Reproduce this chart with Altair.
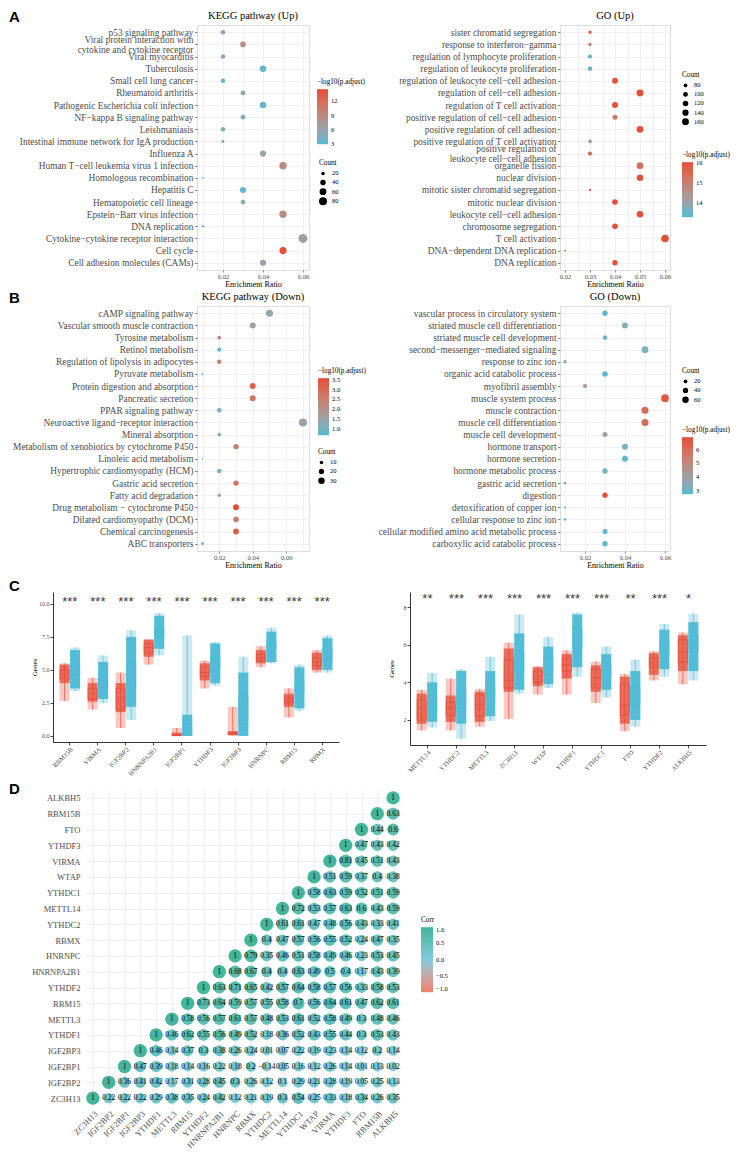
import altair as alt
import pandas as pd

SERIF = "Liberation Serif"
SANS = "Liberation Sans"
TXT = "#4D4D4D"
GRID = "#EBEBEB"
LOW = "#4DBBD5"
HIGH = "#E64B35"
NORMAL_C = "#E64B35"
TUMOR_C = "#4DBBD5"

# ---------------- A: KEGG pathway (Up) ----------------
kegg_up_terms = ["p53 signaling pathway",
                 "Viral protein interaction with\ncytokine and cytokine receptor",
                 "Viral myocarditis", "Tuberculosis", "Small cell lung cancer",
                 "Rheumatoid arthritis", "Pathogenic Escherichia coli infection",
                 "NF−kappa B signaling pathway", "Leishmaniasis",
                 "Intestinal immune network for IgA production", "Influenza A",
                 "Human T−cell leukemia virus 1 infection", "Homologous recombination",
                 "Hepatitis C", "Hematopoietic cell lineage", "Epstein−Barr virus infection",
                 "DNA replication", "Cytokine−cytokine receptor interaction", "Cell cycle",
                 "Cell adhesion molecules (CAMs)"]
kegg_up_ratio = [0.02, 0.03, 0.02, 0.04, 0.02, 0.03, 0.04, 0.03, 0.02, 0.02,
                 0.04, 0.05, 0.01, 0.03, 0.03, 0.05, 0.01, 0.06, 0.05, 0.04]
kegg_up_count = [31, 42, 28, 54, 28, 33, 54, 33, 28, 15, 50, 69, 9, 48, 33, 69, 12, 98, 64, 50]
kegg_up_logp = [5.2, 8.3, 5.0, 3.5, 3.2, 6.0, 3.5, 4.6, 4.0, 3.6,
                5.9, 8.7, 3.0, 3.3, 5.2, 8.7, 4.1, 6.3, 14.5, 5.8]

# ---------------- A: GO (Up) ----------------
go_up_terms = ["sister chromatid segregation", "response to interferon−gamma",
               "regulation of lymphocyte proliferation", "regulation of leukocyte proliferation",
               "regulation of leukocyte cell−cell adhesion", "regulation of cell−cell adhesion",
               "regulation of T cell activation", "positive regulation of cell−cell adhesion",
               "positive regulation of cell adhesion", "positive regulation of T cell activation",
               "positive regulation of\nleukocyte cell−cell adhesion", "organelle fission",
               "nuclear division", "mitotic sister chromatid segregation", "mitotic nuclear division",
               "leukocyte cell−cell adhesion", "chromosome segregation", "T cell activation",
               "DNA−dependent DNA replication", "DNA replication"]
go_up_ratio = [0.03, 0.03, 0.03, 0.03, 0.04, 0.05, 0.04, 0.04, 0.05, 0.03,
               0.03, 0.05, 0.05, 0.03, 0.04, 0.05, 0.04, 0.06, 0.02, 0.04]
go_up_count = [75, 75, 87, 93, 132, 165, 132, 108, 160, 80,
               87, 160, 149, 58, 122, 150, 122, 190, 52, 115]
go_up_logp = [15.7, 15.0, 13.4, 13.4, 16.0, 16.0, 16.0, 15.2, 16.0, 14.1,
              15.6, 15.3, 16.0, 15.7, 16.0, 16.0, 16.0, 16.0, 16.0, 16.0]

# ---------------- B: KEGG pathway (Down) ----------------
kegg_dn_terms = ["cAMP signaling pathway", "Vascular smooth muscle contraction",
                 "Tyrosine metabolism", "Retinol metabolism",
                 "Regulation of lipolysis in adipocytes", "Pyruvate metabolism",
                 "Protein digestion and absorption", "Pancreatic secretion",
                 "PPAR signaling pathway", "Neuroactive ligand−receptor interaction",
                 "Mineral absorption", "Metabolism of xenobiotics by cytochrome P450",
                 "Linoleic acid metabolism", "Hypertrophic cardiomyopathy (HCM)",
                 "Gastric acid secretion", "Fatty acid degradation",
                 "Drug metabolism − cytochrome P450", "Dilated cardiomyopathy (DCM)",
                 "Chemical carcinogenesis", "ABC transporters"]
kegg_dn_ratio = [0.05, 0.04, 0.02, 0.02, 0.02, 0.01, 0.04, 0.04, 0.02, 0.07,
                 0.02, 0.03, 0.01, 0.02, 0.03, 0.02, 0.03, 0.03, 0.03, 0.01]
kegg_dn_count = [36, 26, 11, 13, 15, 4, 26, 26, 15, 46, 11, 21, 3, 16, 21, 10, 26, 23, 26, 7]
kegg_dn_logp = [1.25, 1.6, 2.3, 0.75, 2.4, 0.7, 3.2, 2.8, 1.05, 1.4,
                1.05, 2.5, 0.9, 1.0, 2.75, 1.25, 3.55, 2.55, 3.2, 0.7]

# ---------------- B: GO (Down) ----------------
go_dn_terms = ["vascular process in circulatory system", "striated muscle cell differentiation",
               "striated muscle cell development", "second−messenger−mediated signaling",
               "response to zinc ion", "organic acid catabolic process", "myofibril assembly",
               "muscle system process", "muscle contraction", "muscle cell differentiation",
               "muscle cell development", "hormone transport", "hormone secretion",
               "hormone metabolic process", "gastric acid secretion", "digestion",
               "detoxification of copper ion", "cellular response to zinc ion",
               "cellular modified amino acid metabolic process", "carboxylic acid catabolic process"]
go_dn_ratio = [0.03, 0.04, 0.03, 0.05, 0.01, 0.03, 0.02, 0.06, 0.05, 0.05,
               0.03, 0.04, 0.04, 0.03, 0.01, 0.03, 0.01, 0.01, 0.03, 0.03]
go_dn_count = [40, 50, 31, 67, 17, 44, 24, 86, 72, 72, 36, 50, 50, 40, 11, 40, 5, 9, 36, 40]
go_dn_logp = [2.9, 3.5, 3.2, 3.3, 3.5, 2.9, 4.4, 6.6, 6.1, 6.0,
              4.2, 3.2, 2.95, 3.1, 3.5, 6.8, 2.9, 2.9, 2.9, 2.9]

# ---------------- C: expression boxes ----------------
c1_genes = ["RBM15B", "VIRMA", "IGF2BP2", "HNRNPA2B1", "IGF2BP1",
            "YTHDF3", "IGF2BP3", "HNRNPC", "RBM15", "RBMX"]
c1_sig = ["***"] * 10
# per group: lo, dense lo, q1, median, q3, dense hi, hi
c1_n_lo = [2.65, 2.0, 0.6, 5.4, 0.0, 3.6, 0.05, 5.2, 1.4, 4.8]
c1_n_dlo = [4.0, 2.6, 1.8, 6.0, 0.0, 4.2, 0.05, 5.5, 2.2, 5.0]
c1_n_q1 = [4.3, 2.8, 2.0, 6.3, 0.02, 4.5, 0.1, 5.7, 2.5, 5.3]
c1_n_med = [4.7, 3.2, 2.8, 6.7, 0.05, 4.8, 0.2, 5.9, 2.7, 5.6]
c1_n_q3 = [5.0, 3.6, 3.6, 7.0, 0.12, 5.2, 0.3, 6.2, 2.9, 5.9]
c1_n_dhi = [5.4, 4.0, 4.0, 7.3, 0.25, 5.5, 0.35, 6.5, 3.2, 6.3]
c1_n_hi = [5.5, 4.4, 4.8, 7.3, 0.6, 5.7, 2.2, 6.8, 3.6, 6.5]
c1_t_lo = [3.4, 2.5, 1.2, 6.1, 0.0, 3.8, 0.0, 5.5, 1.9, 4.8]
c1_t_dlo = [3.6, 2.8, 2.2, 6.6, 0.0, 4.0, 0.0, 5.6, 2.1, 5.0]
c1_t_q1 = [4.6, 3.6, 3.7, 7.5, 0.05, 5.0, 0.9, 6.5, 3.3, 5.8]
c1_t_med = [5.0, 4.1, 4.6, 7.9, 0.3, 5.5, 2.0, 6.8, 3.7, 6.2]
c1_t_q3 = [5.5, 4.5, 5.6, 8.2, 0.9, 6.0, 3.0, 7.1, 4.1, 6.7]
c1_t_dhi = [6.5, 5.6, 7.5, 9.1, 1.6, 7.0, 4.8, 7.9, 5.2, 7.4]
c1_t_hi = [6.7, 6.1, 8.0, 9.3, 7.6, 7.1, 6.0, 8.2, 5.4, 7.6]

c2_genes = ["METTL14", "YTHDC2", "METTL3", "ZC3H13", "WTAP",
            "YTHDF1", "YTHDC1", "FTO", "YTHDF2", "ALKBH5"]
c2_sig = ["**", "***", "***", "***", "***", "***", "***", "**", "***", "*"]
c2_n_lo = [1.45, 1.45, 1.65, 2.05, 3.35, 3.35, 2.9, 1.4, 4.1, 3.9]
c2_n_dlo = [1.8, 1.9, 1.9, 3.5, 3.8, 4.2, 3.5, 1.8, 4.4, 4.6]
c2_n_q1 = [2.0, 2.25, 2.2, 3.7, 4.0, 4.6, 3.7, 2.25, 4.8, 5.05]
c2_n_med = [2.6, 2.65, 2.8, 4.1, 4.3, 4.95, 4.25, 2.8, 5.05, 5.6]
c2_n_q3 = [3.1, 2.95, 3.35, 5.2, 4.6, 5.25, 4.7, 3.9, 5.3, 6.25]
c2_n_dhi = [3.4, 3.3, 3.5, 5.8, 4.8, 5.5, 4.9, 4.3, 5.55, 6.5]
c2_n_hi = [3.6, 4.2, 3.65, 6.1, 4.85, 5.7, 5.1, 4.45, 5.65, 6.65]
c2_t_lo = [1.6, 1.0, 1.95, 3.4, 3.7, 4.3, 3.2, 1.65, 4.3, 4.1]
c2_t_dlo = [1.9, 1.8, 2.2, 3.6, 3.9, 4.8, 3.6, 2.0, 4.7, 4.6]
c2_t_q1 = [2.5, 2.6, 3.0, 4.6, 4.4, 5.8, 4.3, 2.8, 5.5, 5.6]
c2_t_med = [2.9, 3.1, 3.45, 5.2, 4.9, 6.3, 4.65, 3.3, 5.85, 6.0]
c2_t_q3 = [3.3, 3.6, 3.9, 5.6, 5.3, 6.9, 5.0, 3.8, 6.2, 6.5]
c2_t_dhi = [4.0, 4.6, 4.6, 6.6, 5.9, 7.6, 5.5, 4.6, 6.8, 7.2]
c2_t_hi = [4.5, 4.7, 5.35, 7.6, 6.4, 7.7, 5.9, 5.2, 7.1, 7.65]

# ---------------- D: correlation ----------------
corr_genes = ["ZC3H13", "IGF2BP2", "IGF2BP1", "IGF2BP3", "YTHDF1", "METTL3", "RBM15", "YTHDF2",
              "HNRNPA2B1", "HNRNPC", "RBMX", "YTHDC2", "METTL14", "YTHDC1", "WTAP", "VIRMA",
              "YTHDF3", "FTO", "RBM15B", "ALKBH5"]
corr_upper = [
    [1, 0.22, 0.22, 0.22, 0.29, 0.38, 0.35, 0.24, 0.42, 0.12, 0.21, 0.19, 0.3, 0.54, 0.25, 0.33, 0.18, 0.34, 0.26, 0.35],
    [1, 0.36, 0.41, 0.42, 0.17, 0.31, 0.28, 0.45, 0.3, 0.26, 0.12, 0.1, 0.29, 0.21, 0.28, 0.19, 0.05, 0.25, 0.13],
    [1, 0.47, 0.39, 0.18, 0.14, 0.16, 0.22, 0.18, 0.2, -0.14, 0.05, 0.16, 0.12, 0.26, 0.14, 0.01, 0.13, 0.02],
    [1, 0.46, 0.14, 0.37, 0.3, 0.38, 0.26, 0.24, 0.01, 0.07, 0.22, 0.19, 0.23, 0.14, 0.12, 0.2, 0.14],
    [1, 0.46, 0.62, 0.55, 0.56, 0.49, 0.52, 0.18, 0.36, 0.52, 0.43, 0.55, 0.44, 0.3, 0.53, 0.43],
    [1, 0.58, 0.56, 0.57, 0.61, 0.57, 0.48, 0.53, 0.61, 0.52, 0.58, 0.49, 0.3, 0.48, 0.46],
    [1, 0.73, 0.64, 0.59, 0.57, 0.55, 0.58, 0.7, 0.56, 0.64, 0.61, 0.47, 0.62, 0.61],
    [1, 0.63, 0.71, 0.65, 0.42, 0.57, 0.64, 0.58, 0.57, 0.56, 0.33, 0.58, 0.53],
    [1, 0.68, 0.67, 0.4, 0.4, 0.63, 0.49, 0.5, 0.4, 0.17, 0.43, 0.39],
    [1, 0.79, 0.35, 0.46, 0.51, 0.58, 0.49, 0.46, 0.23, 0.53, 0.45],
    [1, 0.4, 0.47, 0.57, 0.56, 0.55, 0.52, 0.24, 0.47, 0.35],
    [1, 0.61, 0.61, 0.47, 0.48, 0.56, 0.43, 0.33, 0.41],
    [1, 0.72, 0.53, 0.57, 0.63, 0.6, 0.43, 0.59],
    [1, 0.58, 0.63, 0.59, 0.52, 0.51, 0.59],
    [1, 0.51, 0.59, 0.37, 0.4, 0.38],
    [1, 0.81, 0.45, 0.51, 0.43],
    [1, 0.47, 0.43, 0.42],
    [1, 0.44, 0.6],
    [1, 0.63],
    [1],
]

NOSTROKE = alt.ViewBackground(stroke="transparent")


def leg_text():
    return dict(titleFont=SERIF, titleFontSize=7.2, titleFontWeight="normal", titleColor="black",
                labelFont=SERIF, labelFontSize=6.5, labelColor="black", titlePadding=4)


def dotplot(terms, ratio, count, logp, title, xdom, xgrid, xstep, cdom, cvals, cfmt,
            sdom, srange, svals, cpos, spos, glen, width, height):
    df = pd.DataFrame({"term": terms, "ratio": ratio, "count": count, "logp": logp})
    major = f"abs(datum.value / {xstep} - round(datum.value / {xstep})) < 0.01"
    x = alt.X("ratio:Q", title="Enrichment Ratio",
              scale=alt.Scale(domain=xdom, nice=False, zero=False),
              axis=alt.Axis(values=xgrid,
                            labelExpr=f"{major} ? format(datum.value, '.2f') : ''",
                            tickOpacity={"condition": {"test": f"!({major})", "value": 0}, "value": 1},
                            grid=True, gridColor=GRID, gridWidth=0.7, domain=False,
                            tickSize=2, tickColor="#333333", tickWidth=0.6,
                            labelFont=SERIF, labelFontSize=6.5, labelColor=TXT, labelPadding=1,
                            titleFont=SERIF, titleFontSize=8, titleFontWeight="normal",
                            titleColor="black", titlePadding=1))
    y = alt.Y("term:N", sort=terms, title=None, scale=alt.Scale(padding=0.6),
              axis=alt.Axis(labelExpr="split(datum.label, '\\n')", labelLineHeight=10,
                            labelOffset={"condition": {"test": "indexof(datum.value, '\\n') >= 0",
                                                       "value": -5}, "value": 0},
                            labelLimit=400, labelFont=SERIF, labelFontSize=9.4, labelColor=TXT,
                            labelPadding=1.5, tickSize=2.5, tickColor="#333333", tickWidth=0.6,
                            domain=False, grid=True, gridColor=GRID, gridWidth=0.7))
    color = alt.Color("logp:Q",
                      scale=alt.Scale(domain=cdom, range=[LOW, HIGH], interpolate="lab"),
                      legend=alt.Legend(title="−log10(p.adjust)", orient="none",
                                        legendX=cpos[0], legendY=cpos[1], values=cvals,
                                        format=cfmt, gradientLength=glen, gradientThickness=11,
                                        gradientStrokeWidth=0, labelOverlap=False,
                                        labelOffset=3, **leg_text()))
    size = alt.Size("count:Q", scale=alt.Scale(domain=sdom, range=srange, zero=False),
                    legend=alt.Legend(title="Count", orient="none", legendX=spos[0],
                                      legendY=spos[1], values=svals, symbolStrokeWidth=0,
                                      rowPadding=2, labelOffset=5, **leg_text()))
    return alt.Chart(df).mark_circle(opacity=1).encode(
        x=x, y=y, color=color, size=size
    ).properties(width=width, height=height,
                 title=alt.TitleParams(title, font=SERIF, fontSize=10.5, fontWeight="normal",
                                       color="black", offset=4, anchor="middle"))


def boxpanel(genes, sig, nst, tst, ydom, yvals, yfmt, width, height, gpos, star_y):
    rows = []
    names = ["lo", "dlo", "q1", "med", "q3", "dhi", "hi"]
    for i, g in enumerate(genes):
        for grp, st in (("Normal", nst), ("Tumor", tst)):
            r = {"gene": g, "group": grp}
            for k, arr in zip(names, st):
                r[k] = arr[i]
            rows.append(r)
    df = pd.DataFrame(rows)
    xenc = alt.X("gene:N", sort=genes, title=None,
                 scale=alt.Scale(paddingInner=0, paddingOuter=0.1),
                 axis=alt.Axis(labelAngle=-45, labelFont=SERIF, labelFontSize=6.5,
                               labelColor=TXT, tickColor="black", tickSize=3, tickWidth=0.7,
                               domainColor="black", domainWidth=0.8, grid=False, labelPadding=1))
    xoff = alt.XOffset("group:N", scale=alt.Scale(domain=["Normal", "Tumor"],
                                                  paddingInner=0, paddingOuter=0.333))
    ysc = alt.Scale(domain=ydom, nice=False, zero=False)
    yax = alt.Axis(values=yvals, format=yfmt, labelFont=SERIF, labelFontSize=6,
                   labelColor=TXT, tickColor="black", tickSize=3, tickWidth=0.7,
                   domainColor="black", domainWidth=0.8, grid=False, labelPadding=1,
                   titleFont=SERIF, titleFontSize=7, titleFontWeight="normal",
                   titleColor="black", titleX=-16)
    csc = alt.Scale(domain=["Normal", "Tumor"], range=[NORMAL_C, TUMOR_C])

    def Y(f):
        return alt.Y(f"{f}:Q", scale=ysc, axis=yax, title="Genes")

    nolegend = alt.Color("group:N", scale=csc, legend=None)
    op = alt.Opacity("group:N", scale=alt.Scale(domain=["Normal", "Tumor"], range=[0.75, 0.95]),
                     legend=None)
    base = alt.Chart(df).encode(x=xenc, xOffset=xoff)
    whisk = base.mark_rule(strokeWidth=0.7).encode(y=Y("lo"), y2="hi:Q", color=nolegend)
    cloud = base.mark_bar(size=10, opacity=0.3).encode(y=Y("lo"), y2="hi:Q", color=nolegend)
    dense = base.mark_bar(size=10).encode(y=Y("dlo"), y2="dhi:Q", color=nolegend, opacity=op)
    box = base.mark_bar(size=9, filled=False, strokeWidth=0.8).encode(
        y=Y("q1"), y2="q3:Q",
        color=alt.Color("group:N", scale=csc,
                        legend=alt.Legend(title="Group", orient="none", legendX=gpos[0],
                                          legendY=gpos[1], symbolSize=110, symbolStrokeWidth=0.8,
                                          symbolType="M-0.55,-0.45H0.55V0.45H-0.55Z M0,-0.45V-1 M0,0.45V1 M-0.55,0H0.55",
                                          rowPadding=3, labelOffset=4,
                                          **leg_text())))
    med = base.mark_tick(size=9, thickness=1, orient="horizontal").encode(y=Y("med"), color=nolegend)
    sdf = pd.DataFrame({"gene": genes, "sig": sig})
    stars = alt.Chart(sdf).mark_text(font=SANS, fontSize=13, color="#3A3A3A",
                                     baseline="top").encode(
        x=alt.X("gene:N", sort=genes), text="sig:N", y=alt.value(star_y))
    return alt.layer(whisk, cloud, dense, box, med, stars).properties(
        width=width, height=height, view=NOSTROKE)


def rlab(v):
    if v == 1:
        return "1"
    s = f"{v:.2f}".rstrip("0").rstrip(".")
    return s.replace("-", "−")


def corrpanel(size_px, lpos):
    rows = []
    for i, row in enumerate(corr_upper):
        for k, v in enumerate(row):
            rows.append({"xg": corr_genes[i + k], "yg": corr_genes[i], "v": v,
                         "av": abs(v), "lab": rlab(v)})
    df = pd.DataFrame(rows)
    x = alt.X("xg:N", sort=corr_genes, title=None, scale=alt.Scale(padding=0.5),
              axis=alt.Axis(labelAngle=-45, labelFont=SERIF, labelFontSize=8.5, labelColor=TXT,
                            ticks=False, domain=False, grid=True, gridColor=GRID, gridWidth=0.8,
                            labelPadding=3))
    y = alt.Y("yg:N", sort=corr_genes[::-1], title=None, scale=alt.Scale(padding=0.5),
              axis=alt.Axis(labelFont=SERIF, labelFontSize=8.5, labelColor=TXT, ticks=False,
                            domain=False, grid=True, gridColor=GRID, gridWidth=0.8,
                            labelPadding=5))
    base = alt.Chart(df).encode(x=x, y=y)
    circ = base.mark_circle(opacity=1).encode(
        color=alt.Color("v:Q", scale=alt.Scale(domain=[-1, 0, 1],
                                               range=["#EF7F6D", "#7ECBDD", "#43B59B"],
                                               interpolate="lab"),
                        legend=alt.Legend(title="Corr", orient="none", legendX=lpos[0],
                                          legendY=lpos[1], values=[1, 0.5, 0, -0.5, -1],
                                          format=".1f", gradientLength=65, gradientThickness=12,
                                          gradientStrokeWidth=0, labelOverlap=False,
                                          labelOffset=3, **leg_text())),
        size=alt.Size("av:Q", scale=alt.Scale(domain=[0, 1], range=[88, 178]), legend=None))
    txt = base.mark_text(font=SERIF, fontSize=7.5, color="black").encode(text="lab:N")
    return alt.layer(circ, txt).properties(width=size_px, height=size_px, view=NOSTROKE)


def lead(letter, w, h, dy, top=-16):
    """first cell of a row: panel letter plus an invisible guide that fixes the row bounds"""
    df = pd.DataFrame({"t": [letter]})
    txt = alt.Chart(df).mark_text(font=SANS, fontSize=15, fontWeight="bold", align="left",
                                  baseline="top", color="black").encode(
        text="t:N", x=alt.value(-24), y=alt.value(dy))
    guide = alt.Chart(df).mark_rule(opacity=0).encode(
        x=alt.value(-24), y=alt.value(top), y2=alt.value(h))
    return alt.layer(guide, txt).properties(width=w, height=h, view=NOSTROKE)


def gap(w):
    return alt.Chart(pd.DataFrame({"t": [""]})).mark_text().encode(
        text="t:N", x=alt.value(0), y=alt.value(0)).properties(width=w, height=1, view=NOSTROKE)


kegg_up = dotplot(kegg_up_terms, kegg_up_ratio, kegg_up_count, kegg_up_logp, "KEGG pathway (Up)",
                  [0.007, 0.063], [0.01, 0.02, 0.03, 0.04, 0.05, 0.06], 0.02,
                  [2.9, 14.6], [3, 6, 9, 12], "d", [10, 100], [4.1, 80.6], [20, 40, 60, 80],
                  (120, 53), (122, 134), 55, 112, 245)
go_up = dotplot(go_up_terms, go_up_ratio, go_up_count, go_up_logp, "GO (Up)",
                [0.018, 0.062], [0.02, 0.025, 0.03, 0.035, 0.04, 0.045, 0.05, 0.055, 0.06], 0.01,
                [13.3, 16.05], [14, 15, 16], "d", [50, 200], [2.4, 62.4],
                [80, 100, 120, 140, 160], (122, 126), (122, 46), 55, 110, 245)
kegg_dn = dotplot(kegg_dn_terms, kegg_dn_ratio, kegg_dn_count, kegg_dn_logp, "KEGG pathway (Down)",
                  [0.0067, 0.0736], [0.01, 0.02, 0.03, 0.04, 0.05, 0.06, 0.07], 0.02,
                  [0.66, 3.59], [1.0, 1.5, 2.0, 2.5, 3.0, 3.5], ".1f", [2, 45], [0.9, 63.7],
                  [10, 20, 30], (121, 61), (121, 142), 57, 112, 245)
go_dn = dotplot(go_dn_terms, go_dn_ratio, go_dn_count, go_dn_logp, "GO (Down)",
                [0.0075, 0.0625], [0.01, 0.02, 0.03, 0.04, 0.05, 0.06], 0.02,
                [2.76, 6.9], [3, 4, 5, 6], "d", [0, 90], [0.8, 62.5], [20, 40, 60],
                (122, 120), (122, 61), 57, 110, 245)

c_left = boxpanel(c1_genes, c1_sig,
                  [c1_n_lo, c1_n_dlo, c1_n_q1, c1_n_med, c1_n_q3, c1_n_dhi, c1_n_hi],
                  [c1_t_lo, c1_t_dlo, c1_t_q1, c1_t_med, c1_t_q3, c1_t_dhi, c1_t_hi],
                  [-0.46, 10.9], [0, 2.5, 5, 7.5, 10], ".1f", 286, 150, (295, 61), 4)
c_right = boxpanel(c2_genes, c2_sig,
                   [c2_n_lo, c2_n_dlo, c2_n_q1, c2_n_med, c2_n_q3, c2_n_dhi, c2_n_hi],
                   [c2_t_lo, c2_t_dlo, c2_t_q1, c2_t_med, c2_t_q3, c2_t_dhi, c2_t_hi],
                   [0.67, 8.8], [2, 4, 6, 8], "d", 296, 153, (305, 60), 1)
corr = corrpanel(316, (336, 126))


def row(*charts):
    return alt.hconcat(*charts, spacing=0, bounds="flush").resolve_scale(
        color="independent", size="independent", x="independent", y="independent",
        opacity="independent")


rowA = row(lead("A", 164, 262, -15), kegg_up, gap(251), go_up)
rowB = row(lead("B", 164, 268, -15), kegg_dn, gap(251), go_dn)
rowC = row(lead("C", 0, 179, -13), c_left, gap(71), c_right)
rowD = row(lead("D", 52, 1, -8, top=-11), corr)

chart = alt.vconcat(rowA, rowB, rowC, rowD, spacing=0).resolve_scale(
    color="independent", size="independent", x="independent", y="independent"
).properties(padding=0).configure_view(stroke="#8C8C8C", strokeWidth=0.7).configure(
    font=SERIF, background="white")

chart.save("out.html", embed_options={"renderer": "svg", "actions": False})
